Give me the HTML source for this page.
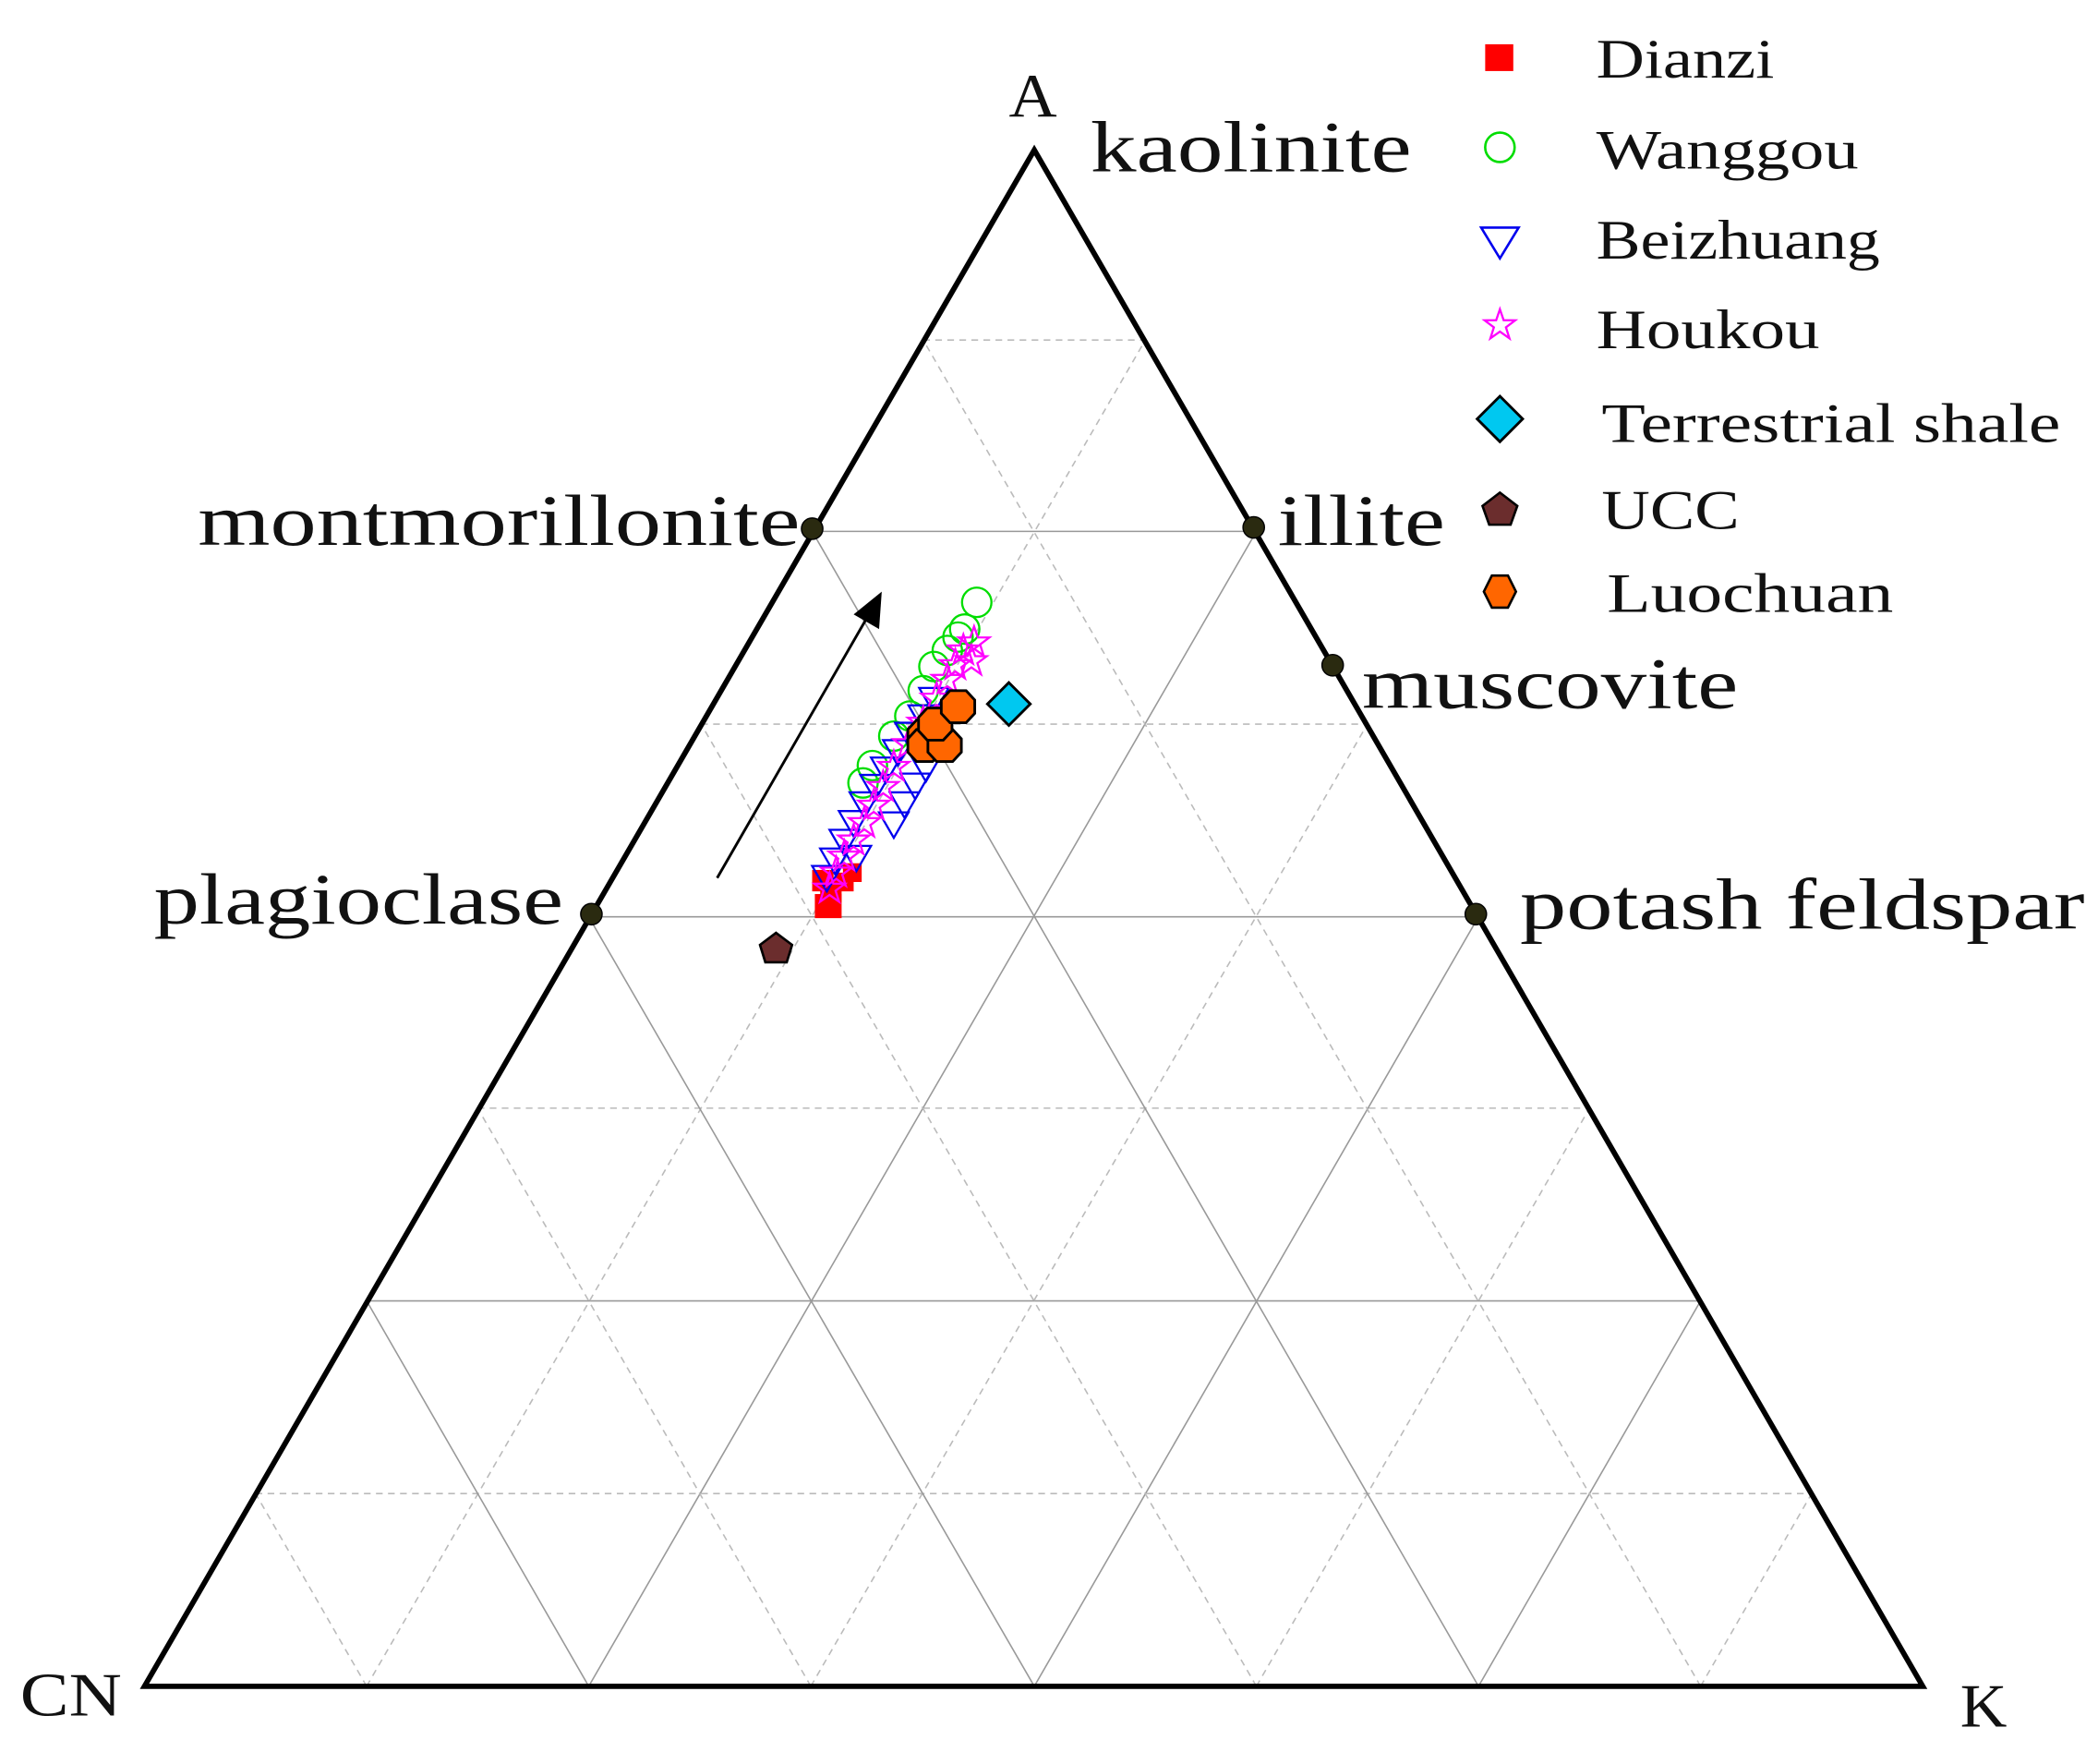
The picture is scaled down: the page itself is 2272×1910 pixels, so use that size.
<!DOCTYPE html>
<html><head><meta charset="utf-8"><style>html,body{margin:0;padding:0;background:#fff}svg{display:block}</style></head>
<body>
<svg width="2272" height="1910" viewBox="0 0 1568 1318" xmlns="http://www.w3.org/2000/svg" font-family="'Liberation Serif', serif">
<defs>
<polygon id="star" points="0,-12 2.8,-3.8 11.4,-3.7 4.5,1.5 7.1,9.7 0,4.7 -7.1,9.7 -4.5,1.5 -11.4,-3.7 -2.8,-3.8" fill="none" stroke="#ff00ff" stroke-width="1.6"/>
<polygon id="tri" points="-11,-8 11,-8 0,11" fill="none" stroke="#0000ee" stroke-width="1.6"/>
<circle id="circ" r="11" fill="none" stroke="#00dd00" stroke-width="1.6"/>
<polygon id="hex" points="6,-12 12.5,-5 12.5,5 6,12 -6,12 -12.5,5 -12.5,-5 -6,-12" fill="#ff6600" stroke="#000" stroke-width="2"/>
</defs>
<g stroke-width="1.1">
<!-- horizontal lines -->
<line x1="690" y1="254" x2="856" y2="254" stroke="#bbb" stroke-dasharray="5,4"/>
<line x1="607" y1="397" x2="939" y2="397" stroke="#999"/>
<line x1="524" y1="541" x2="1022" y2="541" stroke="#bbb" stroke-dasharray="5,4"/>
<line x1="440" y1="685" x2="1105" y2="685" stroke="#999"/>
<line x1="357" y1="828" x2="1188" y2="828" stroke="#bbb" stroke-dasharray="5,4"/>
<line x1="274" y1="972" x2="1271" y2="972" stroke="#999"/>
<line x1="191" y1="1116" x2="1354" y2="1116" stroke="#bbb" stroke-dasharray="5,4"/>
<!-- constant K lines: bottom to right side -->
<line x1="274" y1="1260" x2="856" y2="254" stroke="#bbb" stroke-dasharray="5,4"/>
<line x1="440" y1="1260" x2="939" y2="397" stroke="#999"/>
<line x1="606" y1="1260" x2="1022" y2="541" stroke="#bbb" stroke-dasharray="5,4"/>
<line x1="773" y1="1260" x2="1105" y2="685" stroke="#999"/>
<line x1="939" y1="1260" x2="1188" y2="828" stroke="#bbb" stroke-dasharray="5,4"/>
<line x1="1105" y1="1260" x2="1271" y2="972" stroke="#999"/>
<line x1="1271" y1="1260" x2="1354" y2="1116" stroke="#bbb" stroke-dasharray="5,4"/>
<!-- constant CN lines: bottom to left side -->
<line x1="1271" y1="1260" x2="690" y2="254" stroke="#bbb" stroke-dasharray="5,4"/>
<line x1="1105" y1="1260" x2="607" y2="397" stroke="#999"/>
<line x1="939" y1="1260" x2="524" y2="541" stroke="#bbb" stroke-dasharray="5,4"/>
<line x1="773" y1="1260" x2="440" y2="685" stroke="#999"/>
<line x1="606" y1="1260" x2="357" y2="828" stroke="#bbb" stroke-dasharray="5,4"/>
<line x1="440" y1="1260" x2="274" y2="972" stroke="#999"/>
<line x1="274" y1="1260" x2="191" y2="1116" stroke="#bbb" stroke-dasharray="5,4"/>
</g>
<polygon points="773,112 108,1260 1437,1260" fill="none" stroke="#000" stroke-width="4" stroke-linejoin="miter"/>
<!-- mineral dots -->
<g fill="#2a2a10" stroke="#000" stroke-width="1">
<circle cx="607" cy="395" r="8"/><circle cx="937" cy="394" r="8"/><circle cx="996" cy="497" r="8"/>
<circle cx="442" cy="683" r="8"/><circle cx="1103" cy="683" r="8"/>
</g>
<!-- arrow -->
<line x1="536" y1="656" x2="650" y2="458" stroke="#000" stroke-width="2"/>
<polygon points="659,442 657,470 638,459" fill="#000"/>
<!-- data -->
<g fill="#ff0000">
<rect x="609" y="668" width="20" height="18"/><rect x="607" y="650" width="16" height="16"/><rect x="613" y="658" width="16" height="16"/><rect x="624" y="652" width="14" height="14"/><rect x="630" y="645" width="14" height="14"/>
</g>
<g>
<use href="#circ" x="645" y="585"/><use href="#circ" x="652" y="572"/><use href="#circ" x="668" y="550"/><use href="#circ" x="680" y="535"/><use href="#circ" x="690" y="516"/><use href="#circ" x="698" y="498"/><use href="#circ" x="708" y="486"/><use href="#circ" x="716" y="476"/><use href="#circ" x="721" y="470"/><use href="#circ" x="730" y="450"/>
</g>
<g>
<use href="#tri" x="618" y="655"/><use href="#tri" x="624" y="642"/><use href="#tri" x="631" y="628"/><use href="#tri" x="638" y="614"/><use href="#tri" x="646" y="600"/><use href="#tri" x="654" y="587"/><use href="#tri" x="662" y="574"/><use href="#tri" x="671" y="561"/><use href="#tri" x="680" y="548"/><use href="#tri" x="690" y="535"/><use href="#tri" x="698" y="522"/>
<use href="#tri" x="668" y="615"/><use href="#tri" x="676" y="600"/><use href="#tri" x="684" y="586"/><use href="#tri" x="692" y="573"/><use href="#tri" x="640" y="640"/>
</g>
<g>
<use href="#star" x="620" y="664"/><use href="#star" x="625" y="652"/><use href="#star" x="631" y="640"/><use href="#star" x="638" y="628"/><use href="#star" x="646" y="615"/><use href="#star" x="653" y="602"/><use href="#star" x="660" y="588"/><use href="#star" x="668" y="573"/><use href="#star" x="679" y="556"/><use href="#star" x="690" y="540"/><use href="#star" x="700" y="522"/><use href="#star" x="708" y="508"/><use href="#star" x="714" y="497"/><use href="#star" x="720" y="486"/><use href="#star" x="726" y="494"/><use href="#star" x="728" y="480"/>
</g>
<g>
<use href="#hex" x="691" y="550"/><use href="#hex" x="691" y="557"/><use href="#hex" x="706" y="557"/><use href="#hex" x="699" y="541"/><use href="#hex" x="716" y="528"/>
</g>
<polygon points="754,510 770,526 754,542 738,526" fill="#00c8f0" stroke="#000" stroke-width="2"/>
<polygon points="580,697 592,706 588,719 572,719 568,706" fill="#6b2d2d" stroke="#000" stroke-width="1.8"/>
<!-- legend markers -->
<rect x="1110" y="33" width="21" height="20" fill="#ff0000"/>
<circle cx="1121" cy="110" r="11" fill="none" stroke="#00dd00" stroke-width="1.8"/>
<polygon points="1107,170 1135,170 1121,193" fill="none" stroke="#0000ee" stroke-width="1.8"/>
<use href="#star" x="1121" y="243"/>
<polygon points="1121,296 1138,313 1121,330 1104,313" fill="#00c8f0" stroke="#000" stroke-width="2"/>
<polygon points="1121,368 1134,378 1129,392 1113,392 1108,378" fill="#6b2d2d" stroke="#000" stroke-width="1.8"/>
<polygon points="1115,430 1127,430 1133,442 1127,454 1115,454 1109,442" fill="#ff6600" stroke="#000" stroke-width="1.8"/>
<!-- legend text -->
<g font-size="42" fill="#111">
<text x="1193" y="58" textLength="133" lengthAdjust="spacingAndGlyphs">Dianzi</text>
<text x="1193" y="126" textLength="196" lengthAdjust="spacingAndGlyphs">Wanggou</text>
<text x="1193" y="193" textLength="212" lengthAdjust="spacingAndGlyphs">Beizhuang</text>
<text x="1193" y="260" textLength="167" lengthAdjust="spacingAndGlyphs">Houkou</text>
<text x="1197" y="330" textLength="343" lengthAdjust="spacingAndGlyphs">Terrestrial shale</text>
<text x="1197" y="395" textLength="103" lengthAdjust="spacingAndGlyphs">UCC</text>
<text x="1201" y="457" textLength="214" lengthAdjust="spacingAndGlyphs">Luochuan</text>
</g>
<!-- labels -->
<g font-size="54" fill="#111">
<text x="815" y="128" textLength="240" lengthAdjust="spacingAndGlyphs">kaolinite</text>
<text x="148" y="407" textLength="450" lengthAdjust="spacingAndGlyphs">montmorillonite</text>
<text x="955" y="407" textLength="125" lengthAdjust="spacingAndGlyphs">illite</text>
<text x="1018" y="529" textLength="281" lengthAdjust="spacingAndGlyphs">muscovite</text>
<text x="115" y="690" textLength="306" lengthAdjust="spacingAndGlyphs">plagioclase</text>
<text x="1136" y="694" textLength="422" lengthAdjust="spacingAndGlyphs">potash feldspar</text>
</g>
<g font-size="46" fill="#111">
<text x="754" y="87" textLength="36" lengthAdjust="spacingAndGlyphs">A</text>
<text x="15" y="1282" textLength="76" lengthAdjust="spacingAndGlyphs">CN</text>
<text x="1465" y="1290" textLength="35" lengthAdjust="spacingAndGlyphs">K</text>
</g>
</svg>
</body></html>
